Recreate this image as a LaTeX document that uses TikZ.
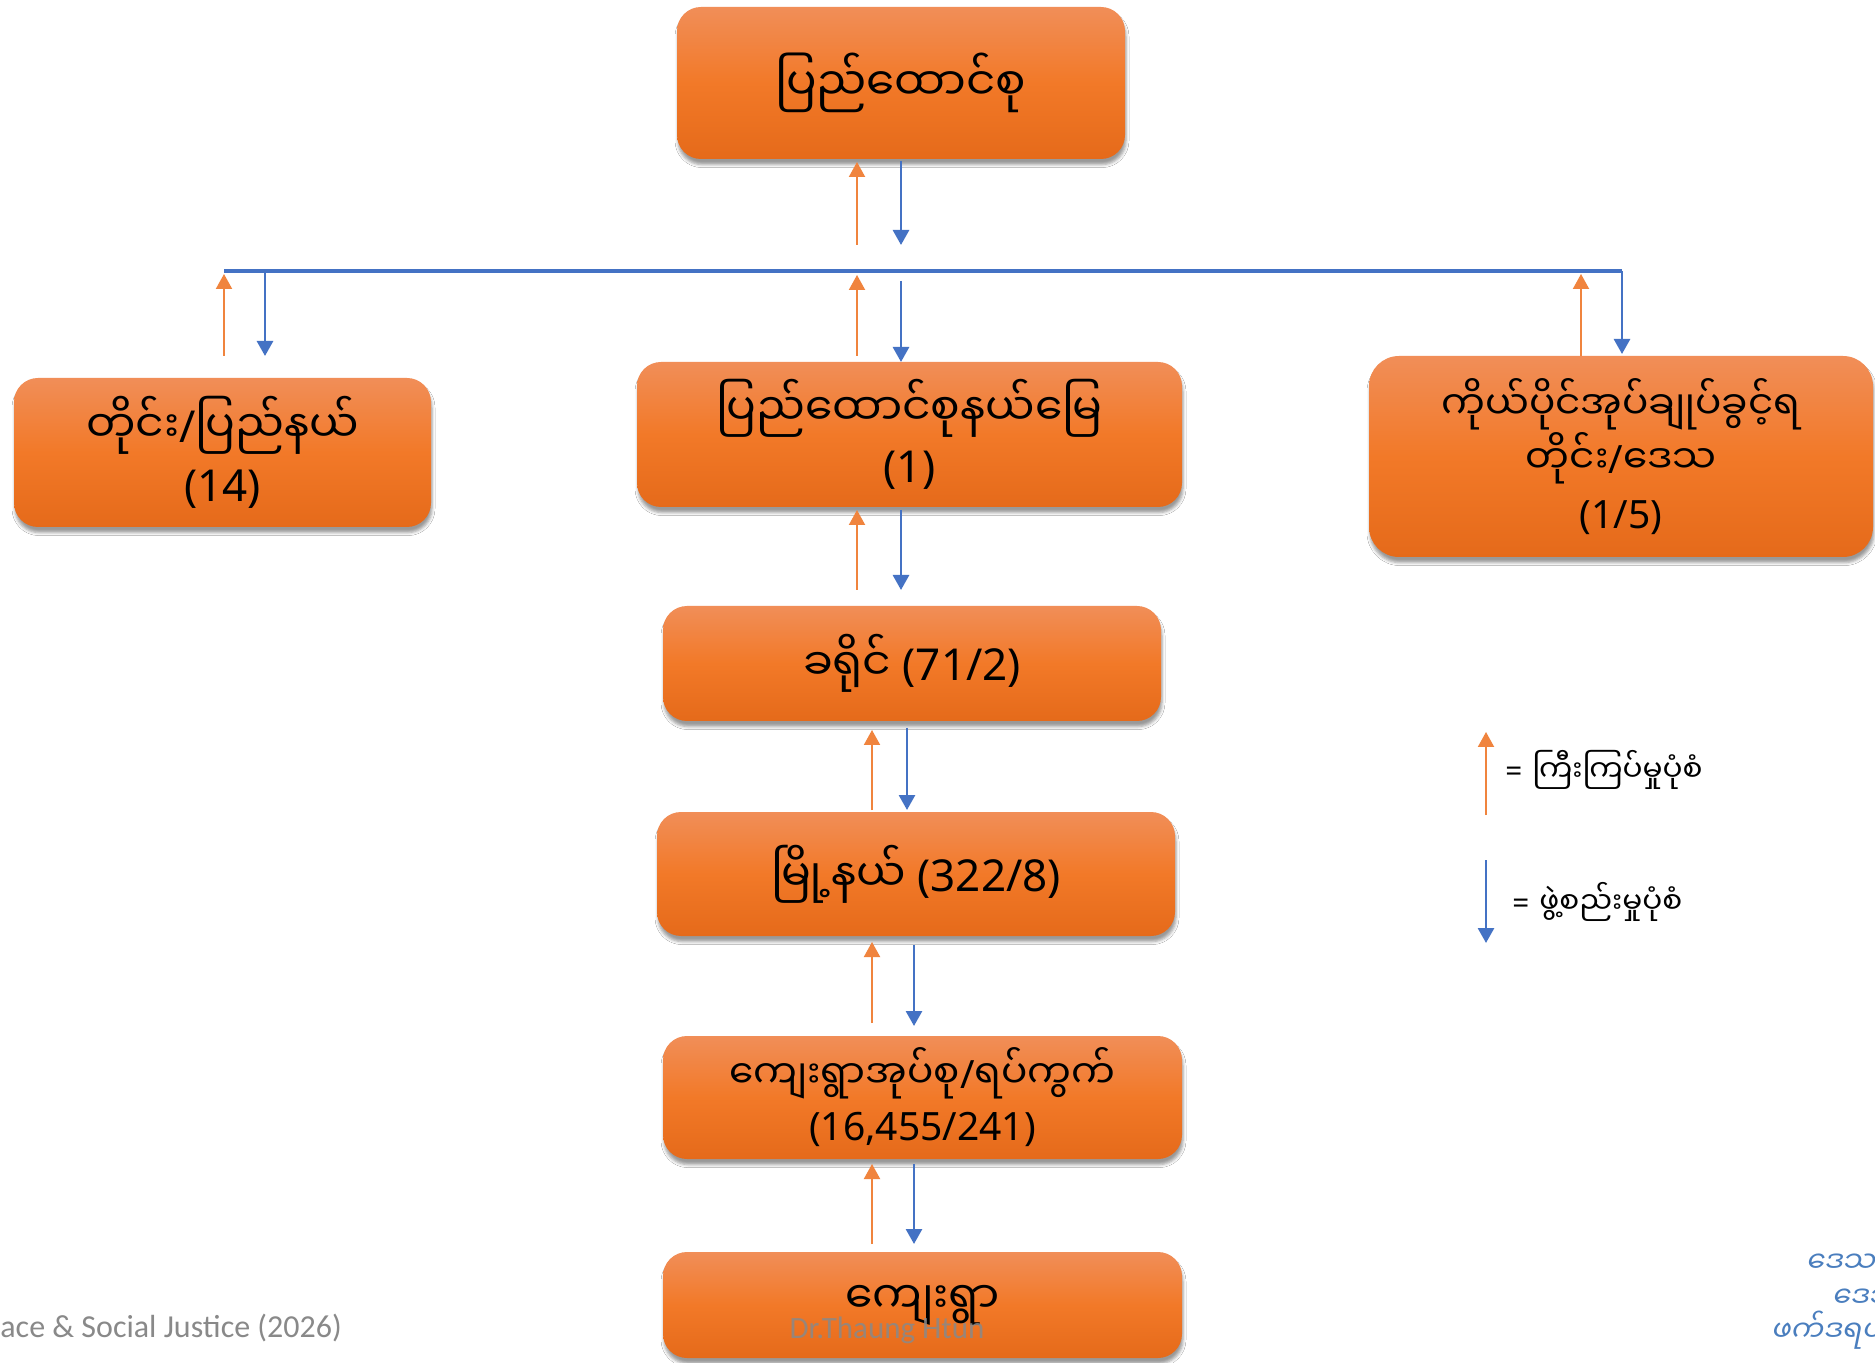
\documentclass[tikz,border=0pt]{standalone}
\usepackage{fontspec}
\setmainfont{Noto Sans}
\newfontfamily\calfont{Carlito}
\newfontfamily\mm[Script=Myanmar]{Noto Sans Myanmar UI}
\newfontfamily\mmit[Script=Myanmar,FakeSlant=0.2]{Noto Sans Myanmar UI}
\usetikzlibrary{arrows.meta,shadows.blur}
\definecolor{boxtop}{RGB}{241,142,88}
\definecolor{boxmid}{RGB}{242,121,40}
\definecolor{boxbot}{RGB}{229,106,26}
\definecolor{uparr}{RGB}{240,132,62}
\definecolor{downarr}{RGB}{68,114,196}
\definecolor{foot}{RGB}{137,137,137}
\definecolor{logoblue}{RGB}{74,126,190}
\begin{document}
\begin{tikzpicture}[x=0.5pt,y=-0.5pt,
  unit/.style={rounded corners=12pt, top color=boxtop, bottom color=boxbot, middle color=boxmid,
    blur shadow={shadow xshift=0.5pt, shadow yshift=-2.8pt, shadow blur radius=1.5pt, shadow opacity=40},
    align=center, inner sep=0pt, text=black, font=\fontsize{22}{30}\selectfont},
  upar/.style={draw=uparr, line width=1pt, -{Triangle[width=8pt,length=7.5pt]}},
  downar/.style={draw=downarr, line width=1.4pt, -{Triangle[width=8pt,length=7.5pt]}},
  bus/.style={draw=downarr, line width=1.7pt},
  legend/.style={anchor=west, inner sep=0pt, font=\fontsize{14.8}{16}\selectfont},
  foottext/.style={inner sep=0pt, text=foot, font=\calfont\fontsize{16}{18}\selectfont},
  logo/.style={anchor=west, inner sep=0pt, text=logoblue, font=\mmit\fontsize{14.5}{15}\selectfont}
]
\useasboundingbox (0,0) rectangle (1875,1363);
\fill[white] (0,0) rectangle (1875,1363);

% boxes
\node[unit, minimum width=224pt, minimum height=76pt, font=\fontsize{22.6}{30}\selectfont] (top) at (901,83) {\mm ပြည်ထောင်စု};
\node[unit, minimum width=208.5pt, minimum height=74.5pt, font=\fontsize{22}{29.5}\selectfont] (state) at (222.5,452.5) {{\mm တိုင်း}/{\mm ပြည်နယ်}\\(14)};
\node[unit, minimum width=272.5pt, minimum height=72.5pt, font=\fontsize{22}{28.5}\selectfont] (union) at (909.5,434.5) {{\mm ပြည်ထောင်စုနယ်မြေ}\\(1)};
\node[unit, minimum width=252pt, minimum height=100.5pt, rounded corners=15pt, font=\fontsize{19.5}{22}\selectfont] (auto) at (1621,456.5) {{\mm ကိုယ်ပိုင်အုပ်ချုပ်ခွင့်ရ}\\{\mm တိုင်း}/{\mm ဒေသ}\\[5.5pt](1/5)};
\node[unit, minimum width=249pt, minimum height=57.5pt] (district) at (912,663.5) {{\mm ခရိုင်} (71/2)};
\node[unit, minimum width=259pt, minimum height=62pt] (township) at (916,874) {{\mm မြို့နယ်} (322/8)};
\node[unit, minimum width=259.5pt, minimum height=61.5pt, font=\fontsize{19.5}{26}\selectfont] (tract) at (922.5,1097.5) {{\mm ကျေးရွာအုပ်စု}/{\mm ရပ်ကွက်}\\(16,455/241)};
\node[unit, minimum width=259.5pt, minimum height=53pt] (village) at (922.5,1305) {\mm ကျေးရွာ};

% connector end points
\coordinate (a1u) at (857,245); \coordinate (a1ut) at (857,162);
\coordinate (a1d) at (901,161); \coordinate (a1dt) at (901,245);
\coordinate (busl) at (224,271); \coordinate (busr) at (1622,271);
\coordinate (lu) at (224,356); \coordinate (lut) at (224,274);
\coordinate (ld) at (265,272); \coordinate (ldt) at (265,356);
\coordinate (mu) at (857,356); \coordinate (mut) at (857,275);
\coordinate (md) at (901,281); \coordinate (mdt) at (901,362);
\coordinate (ru) at (1581,356); \coordinate (rut) at (1581,274);
\coordinate (rd) at (1622,271); \coordinate (rdt) at (1622,354);
\coordinate (m2u) at (857,590); \coordinate (m2ut) at (857,510);
\coordinate (m2d) at (901,510); \coordinate (m2dt) at (901,590);
\coordinate (ku) at (872,810); \coordinate (kut) at (872,730);
\coordinate (kd) at (907,728); \coordinate (kdt) at (907,810);
\coordinate (tu) at (872,1023); \coordinate (tut) at (872,942);
\coordinate (td) at (914,945); \coordinate (tdt) at (914,1026);
\coordinate (vu) at (872,1244); \coordinate (vut) at (872,1164);
\coordinate (vd) at (914,1164); \coordinate (vdt) at (914,1244);
\coordinate (lgu) at (1486,815); \coordinate (lgut) at (1486,732);
\coordinate (lgd) at (1486,860); \coordinate (lgdt) at (1486,943);

\draw[bus] (busl) -- (busr);
\draw[upar] (a1u) -- (a1ut);  \draw[downar] (a1d) -- (a1dt);
\draw[upar] (lu) -- (lut);    \draw[downar] (ld) -- (ldt);
\draw[upar] (mu) -- (mut);    \draw[downar] (md) -- (mdt);
\draw[upar] (ru) -- (rut);    \draw[downar] (rd) -- (rdt);
\draw[upar] (m2u) -- (m2ut);  \draw[downar] (m2d) -- (m2dt);
\draw[upar] (ku) -- (kut);    \draw[downar] (kd) -- (kdt);
\draw[upar] (tu) -- (tut);    \draw[downar] (td) -- (tdt);
\draw[upar] (vu) -- (vut);    \draw[downar] (vd) -- (vdt);
\draw[upar] (lgu) -- (lgut);  \draw[downar] (lgd) -- (lgdt);

% legend
\node[legend] (lg1) at (1505,770) {=\hspace{5pt}{\mm ကြီးကြပ်မှုပုံစံ}};
\node[legend] (lg2) at (1512,902) {=\hspace{5pt}{\mm ဖွဲ့စည်းမှုပုံစံ}};

% footer
\node[foottext, anchor=west] (foot1) at (0,1328) {ace \& Social Justice (2026)};
\node[foottext, opacity=0.85, font=\calfont\fontsize{15.5}{18}\selectfont] (foot2) at (887,1330) {Dr.Thaung Htun};
\node[logo] (logo1) at (1805,1263) {ဒေသ};
\node[logo] (logo2) at (1831,1298) {ဒေသ};
\node[logo] (logo3) at (1770,1330) {ဖက်ဒရယ်};
\end{tikzpicture}
\end{document}
